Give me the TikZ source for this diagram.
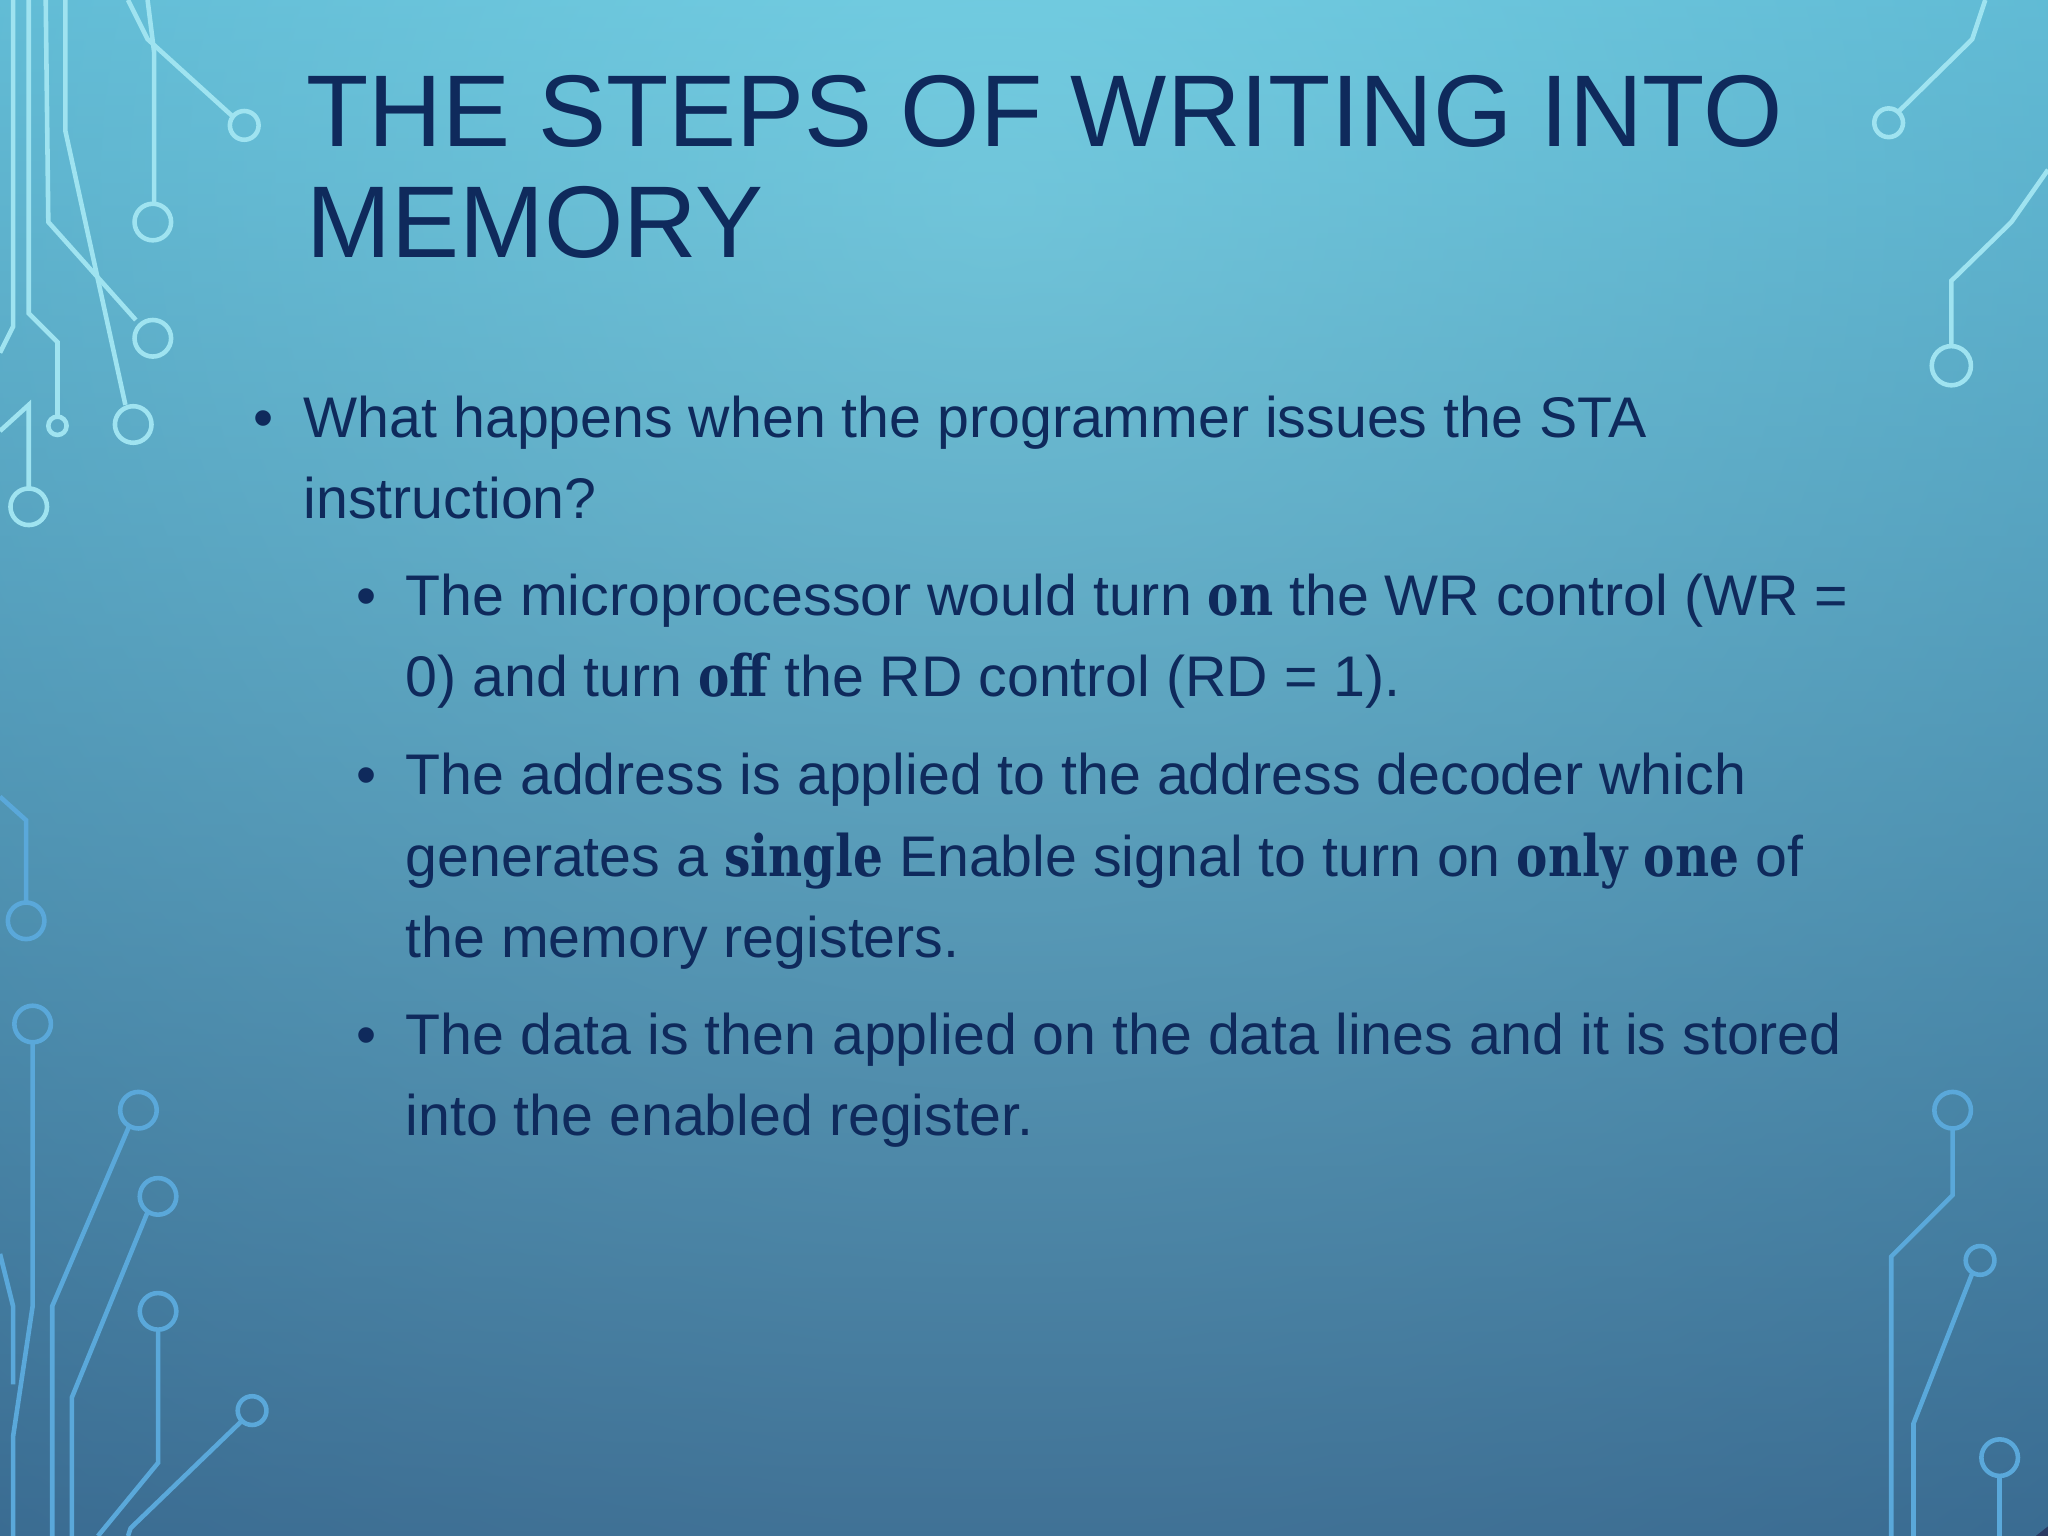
\documentclass[tikz,border=0pt]{standalone}
\usepackage{fontspec}
\setmainfont{Liberation Sans}
\newfontfamily\heavyfont[FakeStretch=0.82]{DejaVu Serif}
\definecolor{ink}{HTML}{0F2A5C}
\definecolor{deco}{HTML}{9FE3F0}
\definecolor{decob}{HTML}{5AA8DA}
\definecolor{bgtop}{HTML}{62C6DE}
\definecolor{bgmid}{HTML}{4A9CBF}
\definecolor{bgbot}{HTML}{2A3B64}
\definecolor{bgin}{HTML}{86D6E6}
\begin{document}
\begin{tikzpicture}[x=0.013061cm,y=-0.013061cm,
  line/.style={anchor=base west,inner sep=0pt,font=\fontsize{16.3}{19}\selectfont,text=ink},
  ttl/.style={anchor=base west,inner sep=0pt,font=\fontsize{29}{32}\selectfont,text=ink},
  bul/.style={anchor=base,inner sep=0pt,font=\fontsize{16.3}{19}\selectfont,text=ink},
  dc/.style={draw=deco,line width=1.3pt},
  db/.style={draw=decob,line width=1.3pt}]
\newcommand{\hv}[1]{{\heavyfont\bfseries #1}}
\useasboundingbox (0,0) rectangle (1568,1176);
\clip (0,0) rectangle (1568,1176);
\shade[top color=bgtop, middle color=bgmid, bottom color=bgbot] (0,0) rectangle (1568,1176);
\begin{scope}[opacity=0.5]
\shade[inner color=bgin,outer color=bgmid] (760,150) circle (1300);
\end{scope}
% top-left decorations
\draw[dc] (98,0) -- (113,30) -- (178,89); \draw[dc] (187,96) circle (11);
\draw[dc] (113,0) -- (118,40) -- (118,156); \draw[dc] (117,170) circle (14);
\draw[dc] (35,0) -- (37,170) -- (104,245); \draw[dc] (117,259) circle (14);
\draw[dc] (50,0) -- (50,100) -- (96,310); \draw[dc] (102,325) circle (14);
\draw[dc] (22,0) -- (22,240) -- (44,262) -- (44,318); \draw[dc] (44,326) circle (7);
\draw[dc] (0,330) -- (22,310) -- (22,374); \draw[dc] (22,388) circle (14);
\draw[dc] (10,0) -- (10,250) -- (0,270);
% top-right
\draw[dc] (1520,0) -- (1510,30) -- (1453,86); \draw[dc] (1446,94) circle (11);
\draw[dc] (1568,130) -- (1540,170) -- (1494,215) -- (1494,265); \draw[dc] (1494,280) circle (15);
% left middle/bottom
\draw[db] (0,610) -- (20,628) -- (20,690); \draw[db] (20,705) circle (14);
\draw[db] (25,798) -- (25,1000) -- (10,1100) -- (10,1176); \draw[db] (25,784) circle (14);
\draw[db] (99,862) -- (40,1000) -- (40,1176); \draw[db] (106,850) circle (14);
\draw[db] (113,928) -- (55,1070) -- (55,1176); \draw[db] (121,916) circle (14);
\draw[db] (121,1018) -- (121,1120) -- (75,1176); \draw[db] (121,1004) circle (14);
\draw[db] (185,1088) -- (100,1170) -- (98,1176); \draw[db] (193,1080) circle (11);
\draw[db] (0,960) -- (10,1000) -- (10,1060);
% right bottom
\draw[db] (1495,864) -- (1495,915) -- (1448,962) -- (1448,1176); \draw[db] (1495,850) circle (14);
\draw[db] (1510,975) -- (1465,1090) -- (1465,1176); \draw[db] (1516,965) circle (11);
\draw[db] (1531,1130) -- (1531,1176); \draw[db] (1531,1116) circle (14);
% title
\node[ttl] (t1) at (234,112) {THE STEPS OF WRITING INTO};
\node[ttl] (t2) at (234,197) {MEMORY};
% body
\node[bul] (b1) at (202,335) {•};
\node[line] (l1) at (232,335) {What happens when the programmer issues the STA};
\node[line] (l2) at (232,397) {instruction?};
\node[bul] (b2) at (281,471) {•};
\node[line] (l3) at (310,471) {The microprocessor would turn \hv{on} the WR control (WR =};
\node[line] (l4) at (310,533) {0) and turn \hv{off} the RD control (RD = 1).};
\node[bul] (b3) at (281,608) {•};
\node[line] (l5) at (310,608) {The address is applied to the address decoder which};
\node[line] (l6) at (310,671) {generates a \hv{single} Enable signal to turn on \hv{only one} of};
\node[line] (l7) at (310,733) {the memory registers.};
\node[bul] (b4) at (281,807) {•};
\node[line] (l8) at (310,807) {The data is then applied on the data lines and it is stored};
\node[line] (l9) at (310,869) {into the enabled register.};
\end{tikzpicture}
\end{document}
